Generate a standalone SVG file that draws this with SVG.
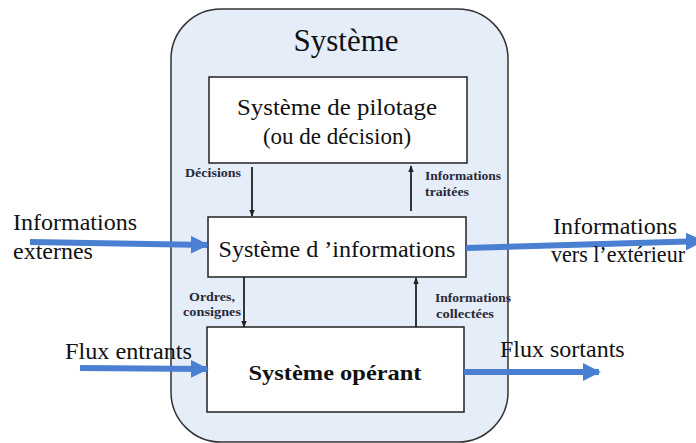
<svg xmlns="http://www.w3.org/2000/svg" width="696" height="443" viewBox="0 0 696 443">
<style>
text{font-family:"Liberation Serif","DejaVu Serif",serif;fill:#111}
.box{fill:#fff;stroke:#222;stroke-width:1.5}
.blk{stroke:#222;stroke-width:1.8;fill:none}
.blue{stroke:#4a7fd2;stroke-width:6;fill:none}
.sm{font-size:12px;fill:#2a2a3a;font-weight:bold}
</style>
<defs>
<marker id="ah" viewBox="0 0 10 10" refX="9" refY="5" markerWidth="4" markerHeight="4" orient="auto" markerUnits="strokeWidth"><path d="M0,1 L10,5 L0,9 z" fill="#222"/></marker>
<marker id="bh" viewBox="0 0 10 10" refX="9" refY="5" markerWidth="3" markerHeight="3" orient="auto" markerUnits="strokeWidth"><path d="M0,0 L10,5 L0,10 z" fill="#4a7fd2"/></marker>
</defs>
<rect width="696" height="443" fill="#fff"/>
<g id="systeme">
<rect x="171" y="9" width="337" height="433" rx="50" fill="#e4edf8" stroke="#333" stroke-width="1.5"/>
<text x="346" y="51" font-size="31" text-anchor="middle" textLength="105" lengthAdjust="spacingAndGlyphs">Système</text>
</g>
<g id="pilotage">
<rect class="box" x="209" y="77" width="258" height="86"/>
<text x="337" y="115" font-size="23" text-anchor="middle" textLength="200" lengthAdjust="spacingAndGlyphs">Système de pilotage</text>
<text x="337" y="144" font-size="23" text-anchor="middle">(ou de décision)</text>
</g>
<g id="informations">
<rect class="box" x="208" y="217" width="258" height="60"/>
<text x="337" y="257" font-size="24" text-anchor="middle" textLength="237" lengthAdjust="spacingAndGlyphs">Système d ’informations</text>
</g>
<g id="operant">
<rect class="box" x="207" y="327" width="257" height="85"/>
<text x="335" y="380" font-size="22" font-weight="bold" text-anchor="middle" textLength="173" lengthAdjust="spacingAndGlyphs">Système opérant</text>
</g>
<g id="connectors">
<line class="blk" x1="252" y1="167" x2="252" y2="216" marker-end="url(#ah)"/>
<line class="blk" x1="411" y1="211" x2="411" y2="166" marker-end="url(#ah)"/>
<line class="blk" x1="244" y1="277" x2="244" y2="327" marker-end="url(#ah)"/>
<line class="blk" x1="416" y1="327" x2="416" y2="278" marker-end="url(#ah)"/>
<line class="blue" x1="30" y1="242" x2="207" y2="245" marker-end="url(#bh)"/>
<line class="blue" x1="466" y1="248" x2="702" y2="241" marker-end="url(#bh)"/>
<line class="blue" x1="80" y1="368" x2="207" y2="369" marker-end="url(#bh)"/>
<line class="blue" x1="464" y1="372" x2="599" y2="372" marker-end="url(#bh)"/>
</g>
<g id="labels">
<text class="sm" x="185" y="177" textLength="56" lengthAdjust="spacingAndGlyphs">Décisions</text>
<text class="sm" x="425" y="180" textLength="76" lengthAdjust="spacingAndGlyphs">Informations</text>
<text class="sm" x="425" y="196" textLength="44" lengthAdjust="spacingAndGlyphs">traitées</text>
<text class="sm" x="212" y="301" text-anchor="middle" textLength="46" lengthAdjust="spacingAndGlyphs">Ordres,</text>
<text class="sm" x="212" y="316" text-anchor="middle" textLength="58" lengthAdjust="spacingAndGlyphs">consignes</text>
<text class="sm" x="435" y="302" textLength="76" lengthAdjust="spacingAndGlyphs">Informations</text>
<text class="sm" x="436" y="318" textLength="58" lengthAdjust="spacingAndGlyphs">collectées</text>
<text x="13" y="230" font-size="24" textLength="124" lengthAdjust="spacingAndGlyphs">Informations</text>
<text x="13" y="259" font-size="24">externes</text>
<text x="553" y="234" font-size="24" textLength="124" lengthAdjust="spacingAndGlyphs">Informations</text>
<text x="551" y="262" font-size="23" textLength="134" lengthAdjust="spacingAndGlyphs">vers l’extérieur</text>
<text x="65" y="359" font-size="24" textLength="127" lengthAdjust="spacingAndGlyphs">Flux entrants</text>
<text x="500" y="357" font-size="24">Flux sortants</text>
</g>
</svg>
